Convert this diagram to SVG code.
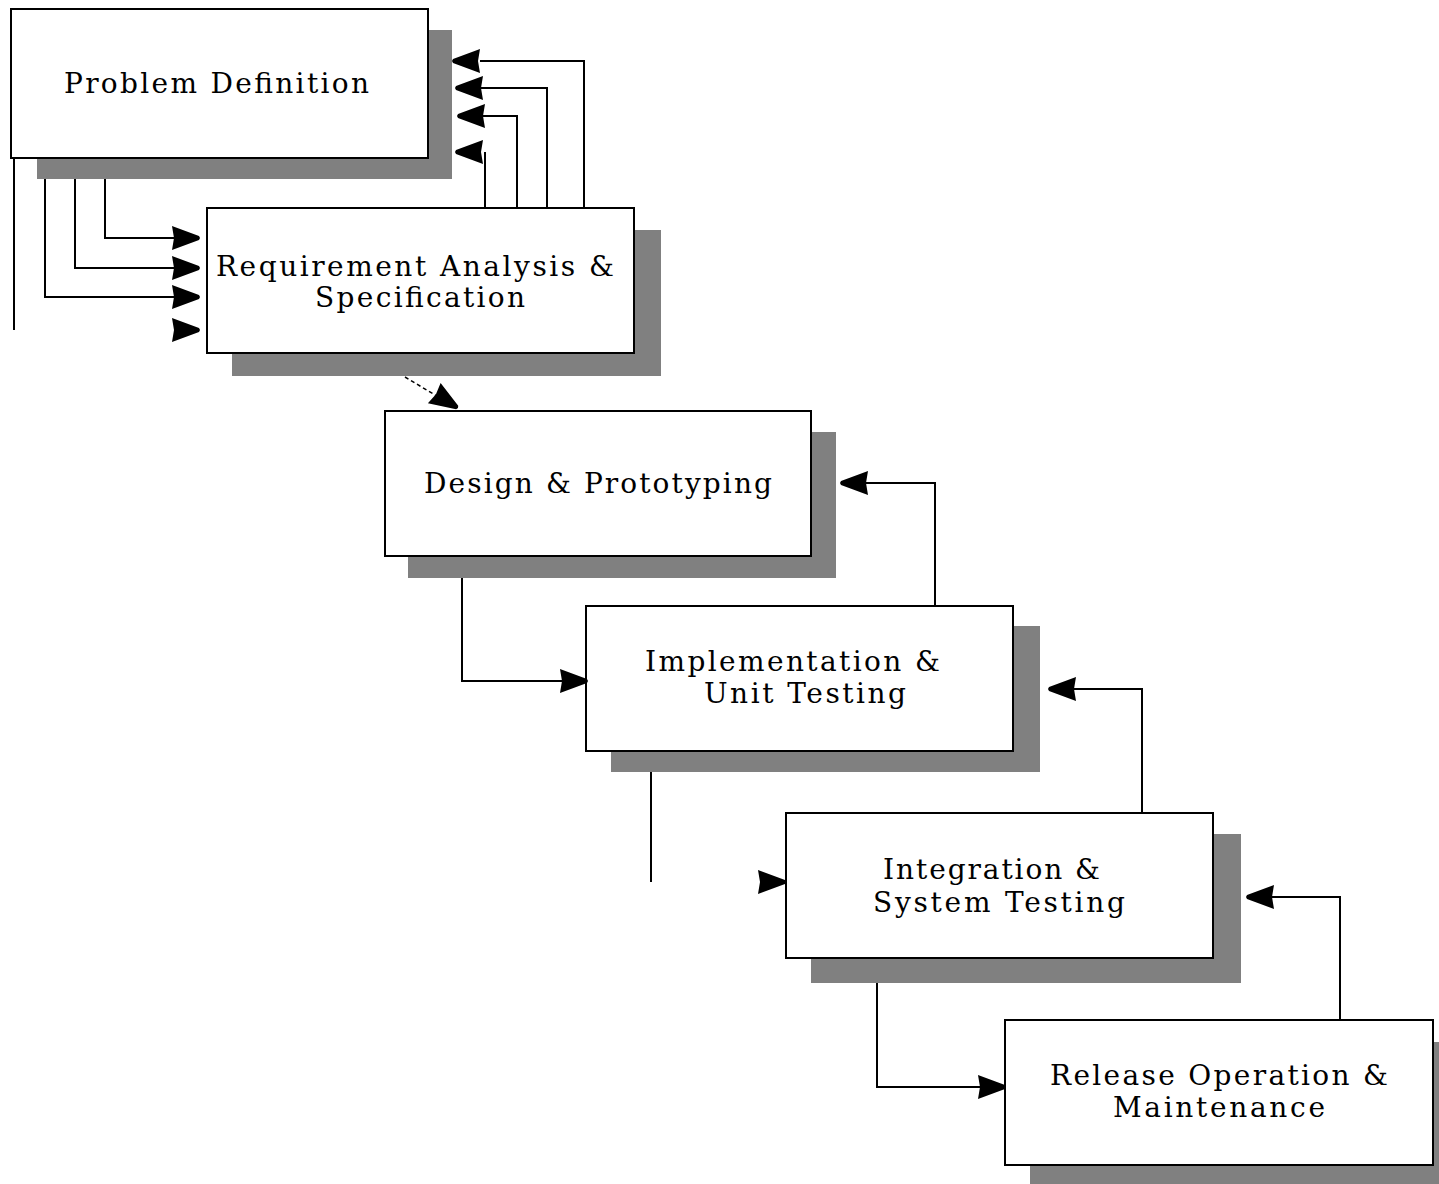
<svg xmlns="http://www.w3.org/2000/svg" width="1439" height="1184" viewBox="0 0 1439 1184">
<style>
.shadow{fill:#808080}
.box{fill:#fff;stroke:#000;stroke-width:2}
.lbl{font-family:"DejaVu Serif","Liberation Serif",serif;font-size:28px;fill:#000}
.ln{fill:none;stroke:#000;stroke-width:2}
.dash{fill:none;stroke:#000;stroke-width:1.5;stroke-dasharray:4 3}
</style>
<defs>
<polygon id="ah" points="-28,-12 -26,0 -28,12 -1,2 0,0 -1,-2" fill="#000"/>
</defs>
<rect width="1439" height="1184" fill="#fff"/>
<g id="problem-definition">
<rect class="shadow" x="37" y="30" width="415" height="149"/>
<rect class="box" x="11" y="9" width="417" height="149"/>
<text class="lbl" x="64" y="93" textLength="305" lengthAdjust="spacing">Problem Definition</text>
</g>
<g id="requirement-analysis">
<rect class="shadow" x="232" y="230" width="429" height="146"/>
<rect class="box" x="207" y="208" width="427" height="145"/>
<text class="lbl" x="216" y="276" textLength="398" lengthAdjust="spacing">Requirement Analysis &amp;</text>
<text class="lbl" x="315" y="307" textLength="210" lengthAdjust="spacing">Specification</text>
</g>
<g id="design-prototyping">
<rect class="shadow" x="408" y="432" width="428" height="146"/>
<rect class="box" x="385" y="411" width="426" height="145"/>
<text class="lbl" x="424" y="493" textLength="348" lengthAdjust="spacing">Design &amp; Prototyping</text>
</g>
<g id="implementation">
<rect class="shadow" x="611" y="626" width="429" height="146"/>
<rect class="box" x="586" y="606" width="427" height="145"/>
<text class="lbl" x="645" y="671" textLength="295" lengthAdjust="spacing">Implementation &amp;</text>
<text class="lbl" x="704" y="703" textLength="202" lengthAdjust="spacing">Unit Testing</text>
</g>
<g id="integration">
<rect class="shadow" x="811" y="834" width="430" height="149"/>
<rect class="box" x="786" y="813" width="427" height="145"/>
<text class="lbl" x="883" y="879" textLength="217" lengthAdjust="spacing">Integration &amp;</text>
<text class="lbl" x="873" y="912" textLength="252" lengthAdjust="spacing">System Testing</text>
</g>
<g id="release">
<rect class="shadow" x="1030" y="1042" width="409" height="142"/>
<rect class="box" x="1005" y="1020" width="428" height="145"/>
<text class="lbl" x="1050" y="1085" textLength="338" lengthAdjust="spacing">Release Operation &amp;</text>
<text class="lbl" x="1113" y="1117" textLength="212" lengthAdjust="spacing">Maintenance</text>
</g>
<g id="connectors">
<path class="ln" d="M14,158 V330"/>
<path class="ln" d="M45,179 V297 H175"/>
<path class="ln" d="M75,179 V268 H175"/>
<path class="ln" d="M105,179 V238 H175"/>
<use href="#ah" x="200" y="238"/>
<use href="#ah" x="200" y="268"/>
<use href="#ah" x="200" y="297"/>
<use href="#ah" x="200" y="330"/>
<path class="ln" d="M485,208 V152"/>
<path class="ln" d="M517,208 V116 H480"/>
<path class="ln" d="M547,208 V88 H480"/>
<path class="ln" d="M584,208 V61 H480"/>
<use href="#ah" transform="translate(455,152) rotate(180)"/>
<use href="#ah" transform="translate(457,116) rotate(180)"/>
<use href="#ah" transform="translate(455,88) rotate(180)"/>
<use href="#ah" transform="translate(452,61) rotate(180)"/>
<path class="dash" d="M405,377 L440,398"/>
<use href="#ah" transform="translate(458,408) rotate(32)"/>
<path class="ln" d="M462,578 V681 H565"/>
<use href="#ah" x="588" y="681"/>
<path class="ln" d="M935,606 V483 H865"/>
<use href="#ah" transform="translate(840,483) rotate(180)"/>
<path class="ln" d="M651,772 V882"/>
<use href="#ah" x="786" y="882"/>
<path class="ln" d="M1142,813 V689 H1072"/>
<use href="#ah" transform="translate(1048,689) rotate(180)"/>
<path class="ln" d="M877,983 V1087 H982"/>
<use href="#ah" x="1006" y="1087"/>
<path class="ln" d="M1340,1020 V897 H1270"/>
<use href="#ah" transform="translate(1246,897) rotate(180)"/>
</g>
</svg>
